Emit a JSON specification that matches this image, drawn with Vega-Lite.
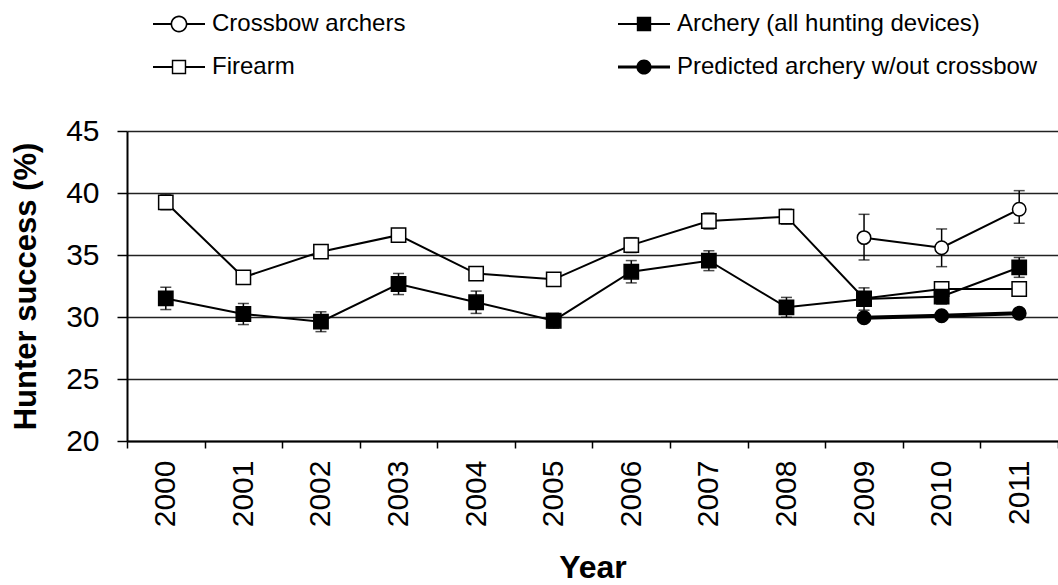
{
  "$schema": "https://vega.github.io/schema/vega-lite/v6.json",
  "width": 931,
  "height": 310,
  "autosize": {"type": "none"},
  "padding": {"left": 127, "top": 131, "right": 0, "bottom": 144},
  "config": {
    "view": {"stroke": null},
    "font": "Liberation Sans",
    "axis": {"labelColor": "black", "titleColor": "black", "labelFont": "Liberation Sans", "titleFont": "Liberation Sans"},
    "legend": {
      "title": null,
      "orient": "none",
      "legendX": 40,
      "legendY": -119,
      "columns": 2,
      "columnPadding": 212,
      "rowPadding": 19,
      "padding": 0,
      "symbolSize": 256,
      "symbolOffset": 0,
      "symbolOpacity": 1,
      "symbolFillColor": "black",
      "symbolStrokeWidth": 0,
      "labelOffset": 21,
      "labelFontSize": 24,
      "labelFont": "Liberation Sans",
      "labelColor": "black",
      "labelLimit": 600
    }
  },
  "data": {
    "values": [
      {"year": "2000", "series": "Firearm", "value": 39.25, "lo": 38.65, "hi": 39.85},
      {"year": "2001", "series": "Firearm", "value": 33.2, "lo": 32.8, "hi": 33.6},
      {"year": "2002", "series": "Firearm", "value": 35.27, "lo": 34.87, "hi": 35.67},
      {"year": "2003", "series": "Firearm", "value": 36.6, "lo": 36.2, "hi": 37.0},
      {"year": "2004", "series": "Firearm", "value": 33.5, "lo": 33.1, "hi": 33.9},
      {"year": "2005", "series": "Firearm", "value": 33.04, "lo": 32.64, "hi": 33.44},
      {"year": "2006", "series": "Firearm", "value": 35.8, "lo": 35.2, "hi": 36.4},
      {"year": "2007", "series": "Firearm", "value": 37.74, "lo": 37.09, "hi": 38.39},
      {"year": "2008", "series": "Firearm", "value": 38.09, "lo": 37.49, "hi": 38.69},
      {"year": "2009", "series": "Firearm", "value": 31.5, "lo": 31.0, "hi": 32.0},
      {"year": "2010", "series": "Firearm", "value": 32.26, "lo": 31.86, "hi": 32.66},
      {"year": "2011", "series": "Firearm", "value": 32.26, "lo": 31.86, "hi": 32.66},
      {"year": "2000", "series": "Archery (all hunting devices)", "value": 31.5, "lo": 30.6, "hi": 32.4},
      {"year": "2001", "series": "Archery (all hunting devices)", "value": 30.24, "lo": 29.39, "hi": 31.09},
      {"year": "2002", "series": "Archery (all hunting devices)", "value": 29.62, "lo": 28.82, "hi": 30.42},
      {"year": "2003", "series": "Archery (all hunting devices)", "value": 32.66, "lo": 31.81, "hi": 33.51},
      {"year": "2004", "series": "Archery (all hunting devices)", "value": 31.19, "lo": 30.29, "hi": 32.09},
      {"year": "2005", "series": "Archery (all hunting devices)", "value": 29.7, "lo": 29.1, "hi": 30.3},
      {"year": "2006", "series": "Archery (all hunting devices)", "value": 33.65, "lo": 32.75, "hi": 34.55},
      {"year": "2007", "series": "Archery (all hunting devices)", "value": 34.54, "lo": 33.74, "hi": 35.34},
      {"year": "2008", "series": "Archery (all hunting devices)", "value": 30.78, "lo": 29.98, "hi": 31.58},
      {"year": "2009", "series": "Archery (all hunting devices)", "value": 31.45, "lo": 30.55, "hi": 32.35},
      {"year": "2010", "series": "Archery (all hunting devices)", "value": 31.65, "lo": 31.05, "hi": 32.25},
      {"year": "2011", "series": "Archery (all hunting devices)", "value": 34.0, "lo": 33.2, "hi": 34.8},
      {"year": "2009", "series": "Crossbow archers", "value": 36.4, "lo": 34.6, "hi": 38.28},
      {"year": "2010", "series": "Crossbow archers", "value": 35.59, "lo": 34.06, "hi": 37.1},
      {"year": "2011", "series": "Crossbow archers", "value": 38.69, "lo": 37.56, "hi": 40.19},
      {"year": "2009", "series": "Predicted archery w/out crossbow", "value": 29.94, "lo": null, "hi": null},
      {"year": "2010", "series": "Predicted archery w/out crossbow", "value": 30.1, "lo": null, "hi": null},
      {"year": "2011", "series": "Predicted archery w/out crossbow", "value": 30.3, "lo": null, "hi": null}
    ]
  },
  "encoding": {
    "x": {
      "field": "year",
      "type": "ordinal",
      "scale": {"type": "band", "paddingInner": 0, "paddingOuter": 0},
      "axis": {
        "title": "Year",
        "titleFontSize": 32,
        "titleFontWeight": "bold",
        "titlePadding": 26,
        "labelFontSize": 30,
        "labelAngle": -90,
        "labelPadding": 12,
        "tickBand": "extent",
        "tickSize": 7,
        "tickColor": "black",
        "tickWidth": 1.5,
        "domainColor": "black",
        "domainWidth": 2,
        "grid": false
      }
    }
  },
  "layer": [
    {
      "transform": [{"filter": "datum.lo != null"}],
      "mark": {"type": "rule", "color": "black", "strokeWidth": 1.5},
      "encoding": {
        "y": {
          "field": "lo",
          "type": "quantitative",
          "scale": {"domain": [20, 45], "nice": false, "zero": false},
          "axis": {
            "title": "Hunter success (%)",
            "titleFontSize": 31,
            "titleFontWeight": "bold",
            "titlePadding": 23,
            "values": [20, 25, 30, 35, 40, 45],
            "labelFontSize": 30,
            "labelPadding": 18,
            "tickSize": 10,
            "tickColor": "black",
            "tickWidth": 1.5,
            "domainColor": "black",
            "domainWidth": 2,
            "grid": true,
            "gridColor": "#222222",
            "gridWidth": 1.5
          }
        },
        "y2": {"field": "hi"}
      }
    },
    {
      "transform": [{"filter": "datum.lo != null"}],
      "mark": {"type": "tick", "color": "black", "size": 11, "thickness": 1.5, "orient": "horizontal"},
      "encoding": {"y": {"field": "lo", "type": "quantitative"}}
    },
    {
      "transform": [{"filter": "datum.lo != null"}],
      "mark": {"type": "tick", "color": "black", "size": 11, "thickness": 1.5, "orient": "horizontal"},
      "encoding": {"y": {"field": "hi", "type": "quantitative"}}
    },
    {
      "transform": [{"filter": "datum.series != 'Predicted archery w/out crossbow'"}],
      "mark": {"type": "line", "color": "black", "strokeWidth": 2},
      "encoding": {
        "y": {"field": "value", "type": "quantitative"},
        "detail": {"field": "series"}
      }
    },
    {
      "transform": [{"filter": "datum.series == 'Predicted archery w/out crossbow'"}],
      "mark": {"type": "line", "color": "black", "strokeWidth": 4},
      "encoding": {"y": {"field": "value", "type": "quantitative"}}
    },
    {
      "transform": [{"filter": "datum.series == 'Crossbow archers'"}],
      "mark": {"type": "point", "shape": "circle", "filled": true, "fill": "white", "stroke": "black", "strokeWidth": 1.5, "opacity": 1, "size": 180},
      "encoding": {"y": {"field": "value", "type": "quantitative"}}
    },
    {
      "transform": [{"filter": "datum.series == 'Firearm'"}],
      "mark": {"type": "point", "shape": "square", "filled": true, "fill": "white", "stroke": "black", "strokeWidth": 1.5, "opacity": 1, "size": 205},
      "encoding": {"y": {"field": "value", "type": "quantitative"}}
    },
    {
      "transform": [{"filter": "datum.series == 'Archery (all hunting devices)'"}],
      "mark": {"type": "point", "shape": "square", "filled": true, "fill": "black", "stroke": "black", "strokeWidth": 1.5, "opacity": 1, "size": 205},
      "encoding": {"y": {"field": "value", "type": "quantitative"}}
    },
    {
      "transform": [{"filter": "datum.series == 'Predicted archery w/out crossbow'"}],
      "mark": {"type": "point", "shape": "circle", "filled": true, "fill": "black", "stroke": "black", "strokeWidth": 1.5, "opacity": 1, "size": 180},
      "encoding": {"y": {"field": "value", "type": "quantitative"}}
    },
    {
      "mark": {"type": "point", "filled": true, "color": "black", "opacity": 0, "size": 256},
      "encoding": {
        "y": {"field": "value", "type": "quantitative"},
        "shape": {
          "field": "series",
          "type": "nominal",
          "scale": {
            "domain": ["Crossbow archers", "Firearm", "Archery (all hunting devices)", "Predicted archery w/out crossbow"],
            "range": [
              "M-3.25,-0.125H-1V0.125H-3.25ZM1,-0.125H3.25V0.125H1ZM1.05,0A1.05,1.05,0,1,1,-1.05,0A1.05,1.05,0,1,1,1.05,0ZM0.85,0A0.85,0.85,0,1,0,-0.85,0A0.85,0.85,0,1,0,0.85,0Z",
              "M-3.25,-0.125H-0.8V0.125H-3.25ZM0.8,-0.125H3.25V0.125H0.8ZM-0.9,-0.9H0.9V0.9H-0.9ZM-0.72,-0.72V0.72H0.72V-0.72Z",
              "M-3.25,-0.125H3.25V0.125H-3.25ZM-0.9,-0.9H0.9V0.9H-0.9Z",
              "M-3.25,-0.2H3.25V0.2H-3.25ZM0.95,0A0.95,0.95,0,1,1,-0.95,0A0.95,0.95,0,1,1,0.95,0Z"
            ]
          },
          "legend": {}
        }
      }
    }
  ]
}
